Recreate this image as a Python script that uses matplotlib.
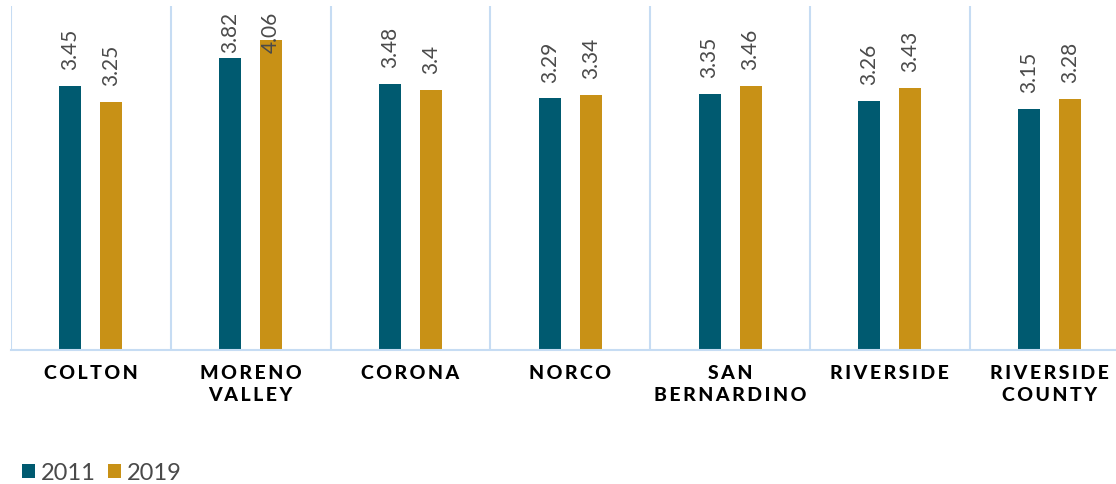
import matplotlib
matplotlib.use("Agg")
import matplotlib.pyplot as plt
import numpy as np

cities = ["COLTON", "MORENO\nVALLEY", "CORONA", "NORCO", "SAN\nBERNARDINO", "RIVERSIDE", "RIVERSIDE\nCOUNTY"]
vals_2011 = [3.45, 3.82, 3.48, 3.29, 3.35, 3.26, 3.15]
vals_2019 = [3.25, 4.06, 3.4, 3.34, 3.46, 3.43, 3.28]
labels_2011 = ["3.45", "3.82", "3.48", "3.29", "3.35", "3.26", "3.15"]
labels_2019 = ["3.25", "4.06", "3.4", "3.34", "3.46", "3.43", "3.28"]

teal = "#005a70"
gold = "#c89116"
sep = "#c6dcf3"

plt.rcParams["font.family"] = ["Lato", "DejaVu Sans"]

fig = plt.figure(figsize=(11.16, 4.85), dpi=100)
ax = fig.add_axes([11 / 1116, 134 / 485, 7 * 159.8 / 1116, 344 / 485])

x = np.arange(len(cities))
w = 0.1375
off = 0.128
b1 = ax.bar(x - off, vals_2011, w, color=teal, label="2011")
b2 = ax.bar(x + off, vals_2019, w, color=gold, label="2019")

# value labels, rotated; kept under the top of the plot area
for xs, vs, ls in [(x - off, vals_2011, labels_2011), (x + off, vals_2019, labels_2019)]:
    for xi, v, s in zip(xs, vs, ls):
        ax.text(xi, min(v + 0.22, 3.9), s, rotation=90, ha="center", va="bottom",
                fontsize=15, fontweight="normal", color="#4a4a4a")

ax.set_xlim(-0.5, len(cities) - 0.5)
ax.set_ylim(0, 4.5)
ax.set_yticks([])

ax.set_xticks(x)
spaced = ["\n".join("\u2009".join(line) for line in c.split("\n")) for c in cities]
ax.set_xticklabels(spaced, fontsize=14, fontweight="black", color="black", linespacing=1.35)
ax.tick_params(axis="x", length=0, pad=10)

ax.set_xticks(np.arange(len(cities) + 1) - 0.5, minor=True)
ax.tick_params(axis="x", which="minor", length=0)
ax.grid(True, which="minor", axis="x", color=sep, linewidth=1.5)
ax.set_axisbelow(True)

for s in ["top", "right", "left"]:
    ax.spines[s].set_visible(False)
ax.spines["bottom"].set_color(sep)
ax.spines["bottom"].set_linewidth(1.5)

leg = fig.legend(handles=[b1, b2], loc="lower left", bbox_to_anchor=(22 / 1116, 1 / 485), ncol=2,
                 frameon=False, borderaxespad=0, borderpad=0,
                 prop={"weight": "normal", "size": 17},
                 handlelength=0.55, handleheight=0.55, handletextpad=0.25, columnspacing=0.5)
for t in leg.get_texts():
    t.set_color("#4a4a4a")

plt.savefig("out.png", dpi=100)
